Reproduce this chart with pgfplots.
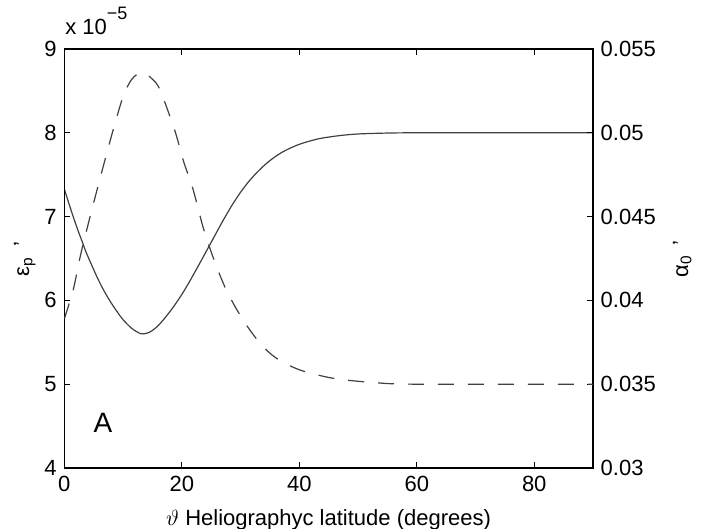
\documentclass[border=0pt]{standalone}
\usepackage{fontspec}
\setmainfont{Liberation Sans}
\usepackage{pgfplots}
\pgfplotsset{compat=1.18}
\pgfplotstableread{
x y
0 7.33
1 7.11
2.1 6.88
3 6.71
3.8 6.56
5.5 6.29
6.6 6.135
7.8 5.99
9.0 5.864
10.0 5.77
11.5 5.665
12.9 5.605
13.5 5.60
14.5 5.62
15.7 5.68
17.0 5.78
18.5 5.915
20.0 6.07
21.4 6.235
22.8 6.41
24.2 6.59
25.6 6.77
27.0 6.95
28.5 7.13
29.9 7.28
31.3 7.41
32.7 7.52
34.1 7.615
35.5 7.695
37.0 7.765
38.4 7.815
39.8 7.857
41.2 7.89
42.6 7.917
44.0 7.938
46.9 7.967
50.0 7.986
55.0 7.997
60.0 8.0
75.0 8.0
90.0 8.0
}\epsdata
\pgfplotstableread{
x y
0 0.0389
1.5 0.0406
2.7 0.0426
4.1 0.0446
5.5 0.0465
6.9 0.04835
8.3 0.05015
10.0 0.05215
11.5 0.0532
13.2 0.0536
15.0 0.0532
16.3 0.05255
18.8 0.05015
20.3 0.0483
21.9 0.04665
23.6 0.0444
25.3 0.0426
27.6 0.0406
30.4 0.03885
33.3 0.03745
36.1 0.03655
40.1 0.03585
45.8 0.03535
52.6 0.0351
60.0 0.0350
90.0 0.0350
}\alphadata
\begin{document}
\fontsize{11}{13}\selectfont
\begin{tikzpicture}
\useasboundingbox (-32.15pt,-30.5pt) rectangle (318.85pt,234pt);
\pgfplotsset{
  common/.style={
    at={(0,0)}, anchor=south west,
    scale only axis, width=264.35pt, height=209.5pt,
    xmin=0, xmax=90,
    tick align=inside,
    major tick length=3pt,
    axis line style={line width=0.6pt},
    every tick/.style={line width=0.6pt, black},
    /pgf/number format/assume math mode=true,
    tick label style={font=\fontsize{11}{13}\selectfont},
    scaled ticks=false,
  }
}
\begin{axis}[common,
  ymin=4, ymax=9,
  xtick={0,20,40,60,80},
  ytick={4,5,6,7,8,9},
  xtick pos=both, xticklabel pos=lower,
  ytick pos=left,
]
\addplot[black!75, line width=0.6pt, smooth, tension=0.5] table {\epsdata};
\end{axis}
\begin{axis}[common,
  ymin=0.03, ymax=0.055,
  xtick=\empty,
  ytick={0.03,0.035,0.04,0.045,0.05,0.055},
  yticklabels={0.03,0.035,0.04,0.045,0.05,0.055},
  ytick pos=right, yticklabel pos=right,
]
\addplot[black!75, line width=0.6pt, smooth, tension=0.5, dash pattern=on 8pt off 7pt] table {\alphadata};
\end{axis}
\node[anchor=base west, inner sep=0pt] at (0.35pt,216.5pt) {x 10\raisebox{7.5pt}{\fontsize{9}{9}\selectfont −5}};
\node[rotate=90, anchor=base, inner sep=0pt] at (-17.65pt,104.5pt) {ε\textsubscript{p}\, '};
\node[rotate=90, anchor=base, inner sep=0pt] at (311.85pt,104.5pt) {α\textsubscript{0}\, '};
\node[anchor=base, inner sep=0pt] at (132.15pt,-29pt) {$\vartheta$ Heliographyc latitude (degrees)};
\node[anchor=center, inner sep=0pt] at (19.35pt,22.5pt) {\fontsize{14}{16}\selectfont A};
\end{tikzpicture}
\end{document}
